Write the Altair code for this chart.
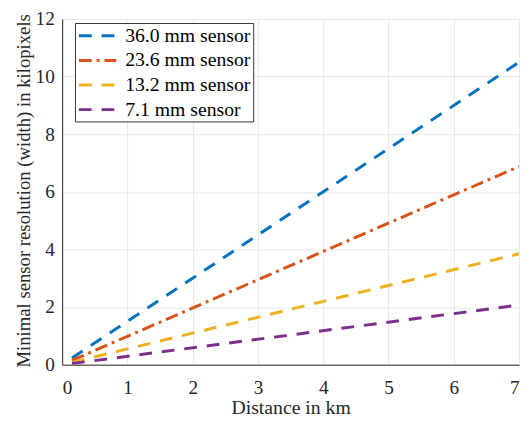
import altair as alt
import pandas as pd

series = ["36.0 mm sensor", "23.6 mm sensor", "13.2 mm sensor", "7.1 mm sensor"]
colors = ["#0072BD", "#D95319", "#EDB120", "#7E2F8E"]
dashes = [[13, 10], [13, 5, 3, 5], [13, 10], [13, 10]]
distance_km = [0.15, 7.0]
res_36 = [0.23, 10.5]
res_236 = [0.15, 6.88]
res_132 = [0.08, 3.85]
res_71 = [0.04, 2.07]

rows = []
for name, vals in zip(series, [res_36, res_236, res_132, res_71]):
    for d, v in zip(distance_km, vals):
        rows.append({"Distance": d, "Res": v, "Sensor": name})
df = pd.DataFrame(rows)

FONT = "Liberation Serif"
TXT = "#262626"

legend = alt.Legend(title=None, labelFont=FONT, labelFontSize=20)

chart = alt.Chart(df).mark_line(strokeWidth=3, clip=True).encode(
    x=alt.X("Distance:Q", scale=alt.Scale(domain=[0, 7], nice=False),
            axis=alt.Axis(title="Distance in km", values=list(range(0, 8)),
                          labelFont=FONT, titleFont=FONT, labelFontSize=19.5,
                          titleFontSize=20, labelPadding=14, titlePadding=1)),
    y=alt.Y("Res:Q", scale=alt.Scale(domain=[0, 12], nice=False),
            axis=alt.Axis(title="Minimal sensor resolution (width) in kilopixels",
                          values=list(range(0, 13, 2)), labelFont=FONT, titleFont=FONT,
                          labelFontSize=19.5, titleFontSize=19, titleY=174,
                          labelPadding=8, titlePadding=2)),
    color=alt.Color("Sensor:N", scale=alt.Scale(domain=series, range=colors),
                    sort=series, legend=legend),
    strokeDash=alt.StrokeDash("Sensor:N", scale=alt.Scale(domain=series, range=dashes),
                              sort=series, legend=legend),
    detail="Sensor:N",
).properties(
    width=464, height=351,
    autosize=alt.AutoSizeParams(type="none"),
    padding={"left": 55, "top": 8, "right": 5, "bottom": 56},
).configure_view(
    stroke=None
).configure_axis(
    labelColor=TXT, titleColor=TXT, titleFontWeight="normal",
    domainColor=TXT, domainWidth=1, ticks=False,
    gridColor="#e8e8e8", gridWidth=1,
).configure_legend(
    orient="none", legendX=13, legendY=4,
    labelFont=FONT, labelFontSize=20, labelColor="black",
    symbolType="M-2,0L2,0", symbolSize=361, symbolStrokeWidth=3,
    symbolOffset=10,
    strokeColor="#333333", fillColor="white", padding=2,
    rowPadding=4, labelOffset=17, labelLimit=300,
)

chart.save("out.html", embed_options={"renderer": "svg", "actions": False})
